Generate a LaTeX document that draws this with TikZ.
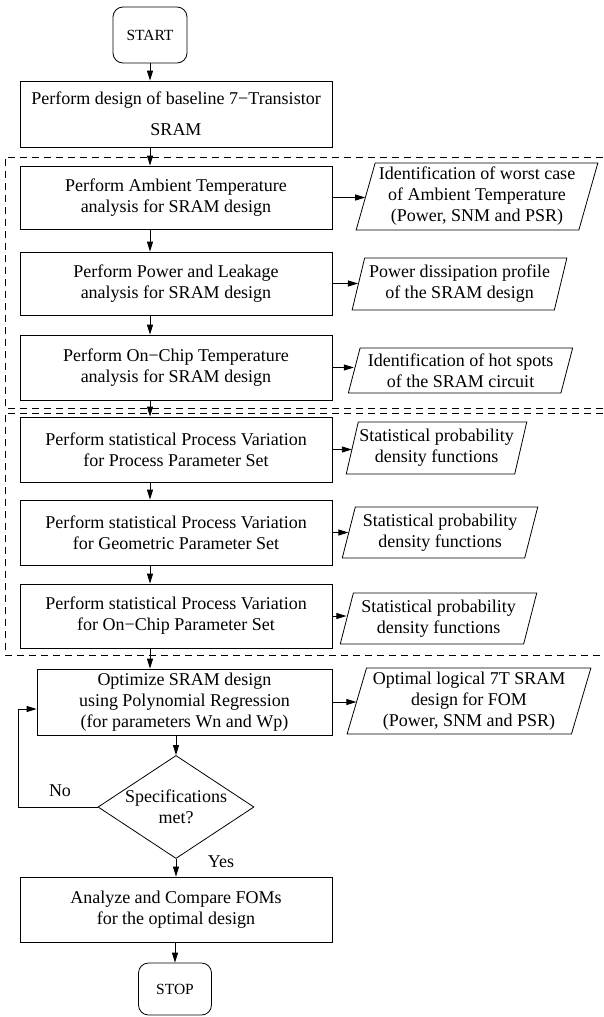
\documentclass[tikz,border=0pt]{standalone}
\usepackage{fontspec}
\setmainfont{Liberation Serif}
\usetikzlibrary{shapes.geometric,arrows.meta}

\begin{document}
\begin{tikzpicture}[x=1pt,y=-1pt,line width=0.8pt,
  every node/.style={font=\fontsize{18}{21}\selectfont,align=center,inner sep=2pt},
  procbox/.style={draw,rectangle,minimum width=312pt,minimum height=64pt},
  termbox/.style={draw,rectangle,rounded corners=10pt,minimum width=74pt,minimum height=56pt,font=\fontsize{15.5}{18}\selectfont},
  databox/.style={draw,trapezium,trapezium left angle=73,trapezium right angle=107,trapezium stretches=true,inner sep=1pt},
  decbox/.style={draw,diamond,aspect=1.5,inner sep=-6pt,minimum width=156pt,minimum height=103pt},
  arr/.style={-{Triangle[length=10pt,width=6pt]}},
  region/.style={dash pattern=on 7pt off 5pt}]
\useasboundingbox (0,0) rectangle (603,1017);
\draw[region] (603,157) -- (5,157) -- (5,408) -- (603,408);
\draw[region] (603,413) -- (5,413) -- (5,655) -- (603,655);
\node[termbox] (start) at (150,35) {START};
\node[procbox,minimum height=66pt] (base) at (176,114) {Perform design of baseline 7−Transistor\\[10pt]SRAM};
\node[procbox,minimum height=63pt] (amb) at (176,197.5) {Perform Ambient Temperature\\analysis for SRAM design};
\node[databox,minimum width=242pt,minimum height=67pt] (worst) at (477,196.5) {Identification of worst case\\of Ambient Temperature\\(Power, SNM and PSR)};
\node[procbox,minimum height=63pt] (power) at (176,283.5) {Perform Power and Leakage\\analysis for SRAM design};
\node[databox,minimum width=215pt,minimum height=52pt] (profile) at (459.5,284) {Power dissipation profile\\of the SRAM design};
\node[procbox,minimum height=65pt] (chiptemp) at (176,367.5) {Perform On−Chip Temperature\\analysis for SRAM design};
\node[databox,minimum width=225pt,minimum height=45pt] (hotspot) at (460.5,370.5) {Identification of hot spots\\of the SRAM circuit};
\node[procbox,minimum height=65pt] (procpar) at (176,449.5) {Perform statistical Process Variation\\for Process Parameter Set};
\node[databox,minimum width=181pt,minimum height=52pt] (pdfa) at (436.5,448) {Statistical probability\\density functions};
\node[procbox,minimum height=65pt] (geompar) at (176,532.5) {Perform statistical Process Variation\\for Geometric Parameter Set};
\node[databox,minimum width=196pt,minimum height=51pt] (pdfb) at (440,532.5) {Statistical probability\\density functions};
\node[procbox,minimum height=64pt] (chippar) at (176,616) {Perform statistical Process Variation\\for On−Chip Parameter Set};
\node[databox,minimum width=197pt,minimum height=51pt] (pdfc) at (438.5,618.5) {Statistical probability\\density functions};
\node[procbox,minimum width=295pt,minimum height=66pt] (opt) at (184.5,702) {Optimize SRAM design\\using Polynomial Regression\\(for parameters Wn and Wp)};
\node[databox,minimum width=244pt,minimum height=66pt] (optfom) at (469,701) {Optimal logical 7T SRAM\\design for FOM\\(Power, SNM and PSR)};
\node[decbox] (spec) at (176,807) {Specifications\\met?};
\node (no) at (60,791) {No};
\node (yes) at (221,862) {Yes};
\node[procbox,minimum height=65pt] (fom) at (176,909.5) {Analyze and Compare FOMs\\for the optimal design};
\node[termbox,minimum width=73pt,minimum height=52pt] (stop) at (175,989) {STOP};
\draw[arr] (start.south) -- (start.south |- base.north);
\draw[arr] (base.south -| start) -- (amb.north -| start);
\draw[arr] (amb.south -| start) -- (power.north -| start);
\draw[arr] (power.south -| start) -- (chiptemp.north -| start);
\draw[arr] (chiptemp.south -| start) -- (procpar.north -| start);
\draw[arr] (procpar.south -| start) -- (geompar.north -| start);
\draw[arr] (geompar.south -| start) -- (chippar.north -| start);
\draw[arr] (chippar.south -| start) -- (opt.north -| start);
\draw[arr] (amb.east) -- (amb.east -| worst.west);
\draw[arr] (power.east) -- (power.east -| profile.west);
\draw[arr] (chiptemp.east) -- (chiptemp.east -| hotspot.west);
\draw[arr] (procpar.east) -- (procpar.east -| pdfa.west);
\draw[arr] (geompar.east) -- (geompar.east -| pdfb.west);
\draw[arr] (chippar.east) -- (chippar.east -| pdfc.west);
\draw[arr] (opt.east) -- (opt.east -| optfom.west);
\draw[arr] (opt.south -| spec) -- (spec.north);
\draw[arr] (spec.west) -- ++(-79,0) |- ([yshift=-7pt]opt.west);
\draw[arr] (spec.south) -- (fom.north);
\draw[arr] (fom.south -| stop) -- (stop.north);
\end{tikzpicture}
\end{document}
